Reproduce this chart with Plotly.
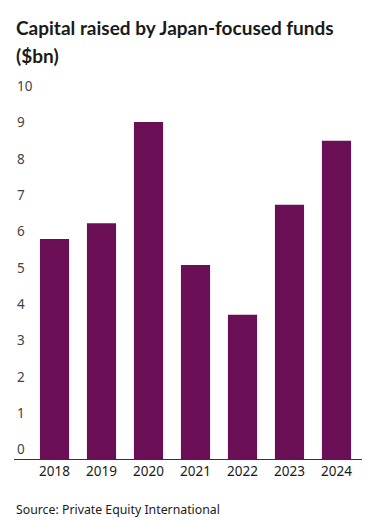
import plotly.graph_objects as go

years = ["2018", "2019", "2020", "2021", "2022", "2023", "2024"]
capital_bn = [6.06, 6.49, 9.28, 5.34, 3.97, 7.0, 8.76]
y_ticks = [0, 1, 2, 3, 4, 5, 6, 7, 8, 9, 10]

W, H = 382, 520
L, R, T, B = 14, 20, 74, 61
ph = H - T - B
base = H - B


def py(pix):
    return (base - pix) / ph


txt = "#1a1a1a"
fig = go.Figure(go.Bar(x=years, y=capital_bn, marker_color="#6a0e55",
                       marker_line_width=0, width=0.62, hoverinfo="skip"))

fig.update_layout(
    width=W, height=H, margin=dict(l=L, r=R, t=T, b=B),
    paper_bgcolor="white", plot_bgcolor="white",
    showlegend=False,
    font=dict(family="Noto Sans", color=txt, size=13),
    xaxis=dict(type="category", range=[-0.862, 6.543], showline=True,
               linecolor="#333333", linewidth=1, ticks="", showgrid=False,
               tickfont=dict(size=13.5)),
    yaxis=dict(range=[0, 10.6], tickvals=y_ticks, showgrid=False, zeroline=False,
               ticklabelposition="inside top", ticks="", tickfont=dict(size=13.5)),
    annotations=[
        dict(text="<b>Capital raised by Japan-focused funds</b>", xref="paper", yref="paper",
             x=0, y=py(28), xanchor="left", yanchor="middle", showarrow=False,
             font=dict(family="Lato", size=19, color=txt)),
        dict(text="<b>($bn)</b>", xref="paper", yref="paper",
             x=0, y=py(55), xanchor="left", yanchor="middle", showarrow=False,
             font=dict(family="Lato", size=19, color=txt)),
        dict(text="Source: Private Equity International", xref="paper",
             yref="paper", x=0, y=py(509), xanchor="left",
             yanchor="middle", showarrow=False, font=dict(size=12.3)),
    ],
)

fig.write_html("out.html", config={"displayModeBar": False},
               post_script="document.body.style.margin='0';")
